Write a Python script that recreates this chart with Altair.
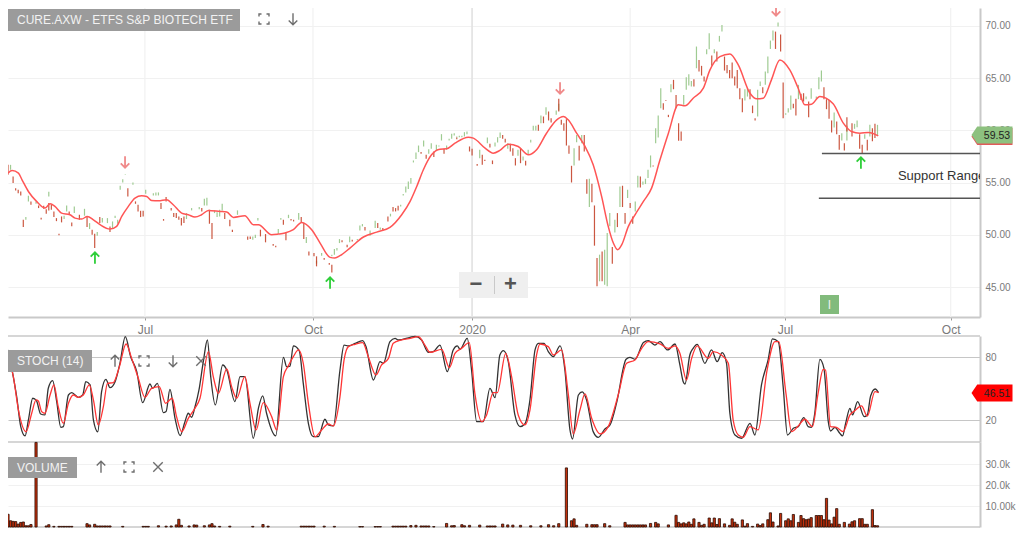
import altair as alt
import pandas as pd

FONT = "Liberation Sans"

# ---------- session numbers (trading days) and their month labels ----------
tick_days = [53.7, 119.6, 182, 244, 304.7, 369.7]
tick_labels = ["Jul", "Oct", "2020", "Apr", "Jul", "Oct"]
year_day = [182]
day_range = [0, 381.2]

# ---------- moving average ----------
ma_day = [0,1.6,4.1,5.5,8,11.2,14.5,16.5,18.4,21,24.3,26.3,28.9,31.1,33.5,36.1,40,42.6,44.6,47.2,49.8,52.4,54.4,56.3,59,62.2,64.8,68.1,70.7,73.3,75.9,78.6,83.1,85.8,88.4,92.9,96.2,98.2,103.4,106,108.6,111.9,115.2,119.1,122.4,126.3,128.2,130.2,
134.1,139.4,144.6,149.8,154.4,157.7,160.3,162.9,166.1,169.4,172,175.3,180.5,182.5,187.1,190.3,192.9,196.2,200.1,204.1,207.3,211.2,215.2,217.8,219.7,223,226.3,229.5,232.8,235.4,237.4,239.1,240.7,243.3,245.9,249.2,252.4,255.7,259,262.9,
265.5,268.7,272.7,275.3,279.2,283.1,286.4,291,293.6,296.2,299.4,302.7,306.6,309.9,312.5,315.1,318.4,323.6,327.6,330.8,334.1,337.4,341.3]
ma_price = [55.91,56.16,55.91,55.27,54.15,53.20,52.56,52.97,52.72,52.08,51.92,51.60,51.51,51.76,51.44,50.97,50.55,50.81,51.76,52.72,53.52,53.74,53.67,53.29,53.26,53.36,52.88,52.08,51.92,51.70,51.92,52.34,52.24,52.18,51.67,51.83,50.97,50.97,50.01,50.07,50.17,50.49,51.19,50.49,49.21,47.84,47.78,48.00,
48.73,49.79,50.26,50.71,51.92,53.20,54.63,56.23,57.66,58.20,58.24,58.78,59.35,59.26,58.30,57.82,58.08,58.68,58.46,57.66,58.14,59.73,61.01,61.33,61.01,59.73,58.46,56.71,53.68,50.81,49.21,48.57,49.05,50.81,51.92,53.20,54.47,57.18,59.73,62.45,
62.35,63.08,64.04,65.79,67.07,67.32,66.27,63.56,63.02,63.08,64.84,66.75,65.79,64.04,62.45,62.51,63.24,62.54,60.69,59.89,59.73,59.80,59.48]

# ---------- rising sessions ----------
up_day = [1,7,8,11,16,22,23,26,30,32,35,37,39,41,42,43,44,45,46,49,54,57,58,59,70,72,75,77,78,81,82,83,84,90,96,97,98,106,107,110,114,117,121,123,127,128,129,
130,134,137,138,139,142,144,146,150,154,155,156,157,158,159,160,161,163,165,166,168,169,170,172,173,174,175,176,177,178,179,180,185,188,191,192,193,196,200,202,204,205,206,207,209,211,215,216,222,223,225,228,232,234,235,236,238,240,243,246,247,249,250,251,252,254,255,256,260,
265,266,267,268,270,274,275,277,279,280,289,290,294,295,297,298,299,300,302,305,306,307,310,313,315,317,318,319,324,327,329,332,333,336,338,341]
up_high = [56.70,51.70,53.74,53.20,54.12,51.83,52.81,52.72,52.49,51.12,50.26,51.60,51.60,51.28,51.83,51.44,54.70,55.33,55.78,55.01,54.31,53.99,54.06,54.06,52.08,52.56,52.66,53.45,53.55,52.34,52.15,52.40,52.97,52.34,49.85,50.01,51.60,50.55,51.60,51.92,52.08,49.79,47.52,48.25,48.10,48.64,48.73,
49.59,49.85,49.59,50.90,51.03,50.42,51.35,50.71,52.02,52.88,53.90,54.63,55.11,55.43,57.12,57.88,58.55,59.03,58.20,58.78,58.62,58.55,59.64,58.55,59.19,59.67,59.73,59.42,59.48,59.48,59.83,59.89,58.14,59.32,58.84,59.35,59.80,58.78,58.14,57.50,58.14,59.10,60.44,60.44,61.42,62.22,61.90,62.54,58.30,59.57,59.57,55.37,48.10,48.57,50.17,52.08,51.44,54.63,54.31,53.20,55.65,55.11,55.37,56.23,57.60,60.21,61.42,64.04,64.42,
63.40,65.09,65.38,64.74,68.03,67.77,69.30,67.77,69.05,70.10,63.94,64.04,63.88,64.68,65.63,67.07,68.60,69.56,70.32,61.65,62.13,63.34,64.36,63.24,64.04,63.24,65.09,65.73,61.71,59.73,60.44,60.63,60.95,59.64,60.53,60.53]
up_low = [56.23,51.44,53.20,52.97,53.67,51.51,52.24,52.08,51.83,50.55,49.91,51.19,51.12,50.65,51.60,51.06,54.31,55.01,55.72,54.79,53.93,53.77,53.77,53.77,51.51,52.34,52.46,52.81,52.81,52.08,51.70,51.76,52.34,51.92,49.53,49.69,51.38,50.10,51.44,51.60,51.44,49.21,47.24,48.00,47.94,48.10,48.51,
49.21,49.28,49.47,50.42,50.81,49.91,50.65,50.49,51.76,52.72,53.77,54.06,54.38,54.89,56.93,57.25,57.92,58.46,57.76,58.24,58.08,58.46,59.03,58.14,59.03,59.19,59.51,59.32,59.35,59.35,59.42,59.64,57.34,58.78,58.46,58.84,59.26,58.24,57.57,57.12,57.66,58.84,59.99,59.99,60.69,61.49,61.49,61.90,56.64,58.87,58.78,52.66,45.55,45.22,45.07,50.81,50.23,52.66,53.52,52.24,54.54,54.79,54.86,55.43,56.45,58.78,59.32,62.13,63.66,
62.45,63.88,64.30,64.20,65.95,67.29,67.77,67.39,68.50,69.46,62.86,63.24,61.33,64.26,64.36,65.47,67.80,68.60,69.94,61.49,61.71,61.97,62.99,62.99,63.02,63.02,63.94,64.68,60.28,59.03,59.03,60.15,60.31,59.19,59.42,59.51]

# ---------- falling sessions ----------
dn_day = [0,2,3,4,5,6,9,12,13,14,15,16,17,18,19,20,21,24,25,28,31,33,34,36,40,47,50,51,52,53,60,61,62,64,65,66,67,68,69,76,79,80,85,87,88,94,95,99,101,104,105,108,109,111,112,115,116,118,120,121,124,126,127,
131,133,135,140,145,147,149,151,152,153,162,164,167,171,176,181,182,184,186,187,189,190,194,195,197,198,199,201,203,208,210,212,213,216,217,218,219,220,221,224,226,227,229,230,231,233,237,239,241,242,244,245,248,253,257,258,259,261,262,
263,264,269,271,272,273,276,278,281,282,283,284,285,286,287,288,291,292,293,296,301,303,304,308,309,311,312,314,320,321,322,323,325,326,328,329,331,331,334,335,337,339,340]
dn_high = [56.70,55.59,54.47,54.31,54.15,51.44,53.20,52.81,51.63,52.78,52.46,53.04,52.88,52.24,51.60,50.10,51.76,52.24,51.19,51.92,51.76,50.49,50.10,51.70,50.80,54.47,53.20,52.88,52.30,52.30,53.04,51.51,53.61,52.56,52.08,52.08,51.76,51.60,51.76,52.56,52.40,51.12,52.08,51.44,50.49,49.85,49.85,50.49,50.07,49.12,48.96,51.44,50.17,51.51,51.44,51.70,51.12,48.41,48.25,47.94,47.78,47.30,47.14,
49.47,49.04,49.53,50.74,51.12,50.65,51.76,52.66,52.56,52.78,57.92,57.66,57.98,58.24,59.32,58.46,58.24,56.77,57.66,57.18,58.71,57.12,59.57,59.19,58.71,58.30,57.34,58.30,57.09,60.53,61.33,61.81,61.17,63.02,61.01,60.69,61.07,58.55,56.61,58.52,59.57,55.33,54.89,52.81,47.78,48.41,48.83,52.08,54.70,52.08,53.04,51.76,55.59,56.64,62.60,62.92,61.49,64.84,63.40,
60.69,59.89,64.90,66.75,66.18,65.16,67.16,67.55,67.07,66.27,65.79,66.50,65.16,65.79,64.04,63.08,63.94,62.38,61.17,64.13,69.46,69.19,64.58,62.54,63.02,63.50,63.56,62.76,64.13,62.99,62.92,60.95,60.85,59.57,58.78,61.26,60.69,59.99,59.64,58.62,59.10,60.21,60.63]
dn_low = [55.75,54.95,54.25,53.99,53.77,50.74,52.88,52.56,51.47,52.50,52.02,52.33,52.40,51.70,51.31,49.95,51.19,51.92,50.81,51.44,50.74,50.01,48.73,51.12,50.26,53.67,52.97,52.24,51.70,51.76,52.47,51.35,53.20,52.34,51.70,51.60,51.44,50.90,51.12,52.24,51.06,49.60,51.51,50.81,50.26,49.53,49.59,49.85,49.28,48.96,48.80,50.97,49.47,51.38,51.28,51.19,49.60,48.03,47.94,46.98,47.62,47.14,46.40,
49.30,48.82,49.37,50.42,50.65,50.42,51.28,52.24,52.24,52.34,57.76,57.28,57.44,57.76,59.16,57.98,57.60,56.61,56.70,57.06,58.36,56.77,59.19,58.84,57.98,57.57,56.64,56.86,56.64,59.96,60.69,60.95,60.75,61.81,60.53,59.96,58.55,57.76,55.01,57.12,57.98,53.93,53.13,48.96,45.07,45.55,47.23,50.74,52.66,51.06,52.56,51.06,54.54,56.55,61.97,62.83,61.27,63.94,62.13,
59.00,59.00,64.20,65.63,65.25,64.68,66.18,66.59,65.73,65.47,65.00,65.00,64.30,64.04,62.99,61.74,62.99,61.65,60.95,63.56,67.80,67.55,61.17,62.13,61.42,62.92,62.76,61.27,62.99,62.03,61.11,59.80,59.64,58.14,58.07,59.89,59.99,59.42,58.23,57.82,58.07,58.97,59.26]

# ---------- signals and support range ----------
buy_day = [34.1, 126.3, 334.5]
buy_price = [47.78, 45.38, 56.88]
sell_day = [45.9, 216.5, 301.2]
sell_price = [56.97, 64.06, 71.53]
support_start = [319.2, 318]
support_end = [381.2, 381.2]
support_price = [57.79, 53.50]
support_label = ["Support Range"]
support_label_day = [349]
support_label_price = [55.63]
last_price = ["59.53"]
last_stoch = ["46.51"]

# ---------- stochastic ----------
k_day = [0,1.6,3.4,5,6.7,8,9.7,11.2,12.8,14.5,15.8,17.5,19.1,20.7,21.7,23.7,25,27.6,29.3,30.5,32.2,33.5,35.2,36.7,38.4,40,42,43.9,46,48.1,50.5,52.8,55.7,56.7,58.6,60.9,62,63.5,65.5,67.5,69.4,70.7,72,73.3,74.9,76.6,78.2,79.5,81.3,84.2,85.8,89,91,92.9,96.2,98.2,99.9,101.4,105,108,109.3,110.6,111.9,114.2,115.8,117.8,119.7,121.7,124.3,125.6,127.6,130.2,
131.8,133.5,136.1,139.1,140.4,143.3,145.9,147.2,149.8,151.8,153.1,157.7,159.6,162.2,164.8,166.8,169.4,172.3,174.6,176.2,177.3,180.1,181.8,183.8,186.4,189,191,192.9,194.3,196.2,198.8,200.8,202.7,204.7,206.7,208,210.2,211.9,213.9,216.5,218.4,220.4,221.4,223.7,225.2,226.9,229.5,231.5,234.1,236.1,238.7,242.4,243.9,245.9,249.2,251.1,253.7,255.7,258.7,261.6,263.5,
264.8,265.5,267.4,268.7,270.3,273.3,275.9,278.1,280.1,281.8,283.1,285.1,287.7,291,292.9,295.5,298.1,299.8,302.1,304,305.7,308,309.9,312.1,313.8,315.1,316.4,318.4,320,321.7,322.6,324.3,326.2,327.3,328.5,330.2,331.2,333.2,335.8,337,338.3,340.1,341.4]
k_value = [87,67.9,42.5,14,5.1,20.3,41,38.4,26,25.1,50.5,57.8,37.8,13.3,14,44.1,46.3,41.9,44.1,56.8,53.7,20.3,8.9,47.3,59,51.1,56.8,74.3,99.7,80.6,66.3,36.8,54.6,50.5,55.2,27.3,28.3,49.5,21.9,5.4,18.7,26.7,22.9,32.4,48.9,75.9,96.5,61.6,34.6,72.7,67.9,37.8,61.6,61.6,2.9,31.4,43.2,26.7,5.1,80,71.1,71.7,90.8,86.3,55.2,17.1,4.4,4.4,21,15.6,14.6,67.9,
91.7,90.8,93.3,95.9,90.2,58.4,75.9,74.3,94.9,98.1,96.5,99,100,96.5,84.8,85.4,91.7,66.3,87,90.8,87.6,98.1,67.9,18.7,18.7,50.5,41.6,82.2,86.3,75.9,25.1,14,16.5,39.4,87,93.3,93.3,85.4,80.6,90.8,67.9,10.8,2.2,44.1,47,39.4,9.2,3.8,11.7,15.6,36.8,78.1,80,78.1,94,95.9,91.7,94.9,87,92.7,72.7,
56.8,54.6,82.2,88.6,92.4,74.3,87,75.9,84.4,74.3,26.7,6,2.9,17.1,6,53.7,77.5,97.5,94.9,52.1,6,12.4,14,22.5,14,13.3,26.7,78.1,69.5,18.7,9.8,13.3,7.6,5.1,17.1,31.4,25.1,37.8,23.5,25.1,43.2,49.8,46.3]
d_day = [0,2.1,4.1,7.1,9.3,11,11.9,13.2,14.5,16.5,18,19.7,21.7,23.7,25.6,27.6,29.5,31.9,33.5,35.4,37.4,39,41.3,43.7,46.3,48.5,51.1,53.7,56.3,59.3,61.8,64.4,66.1,68.1,70.7,73.3,75.3,78.6,80.5,82.5,85.8,87.7,89.7,92.9,94.9,97.3,100.1,103.4,105.4,108,109.9,111.9,113.9,115.8,117.8,120.4,123,125.6,127.6,130.2,
131.8,133.5,136.1,139.1,141.3,144.3,146.5,149.2,151.1,154.4,157.7,160.9,163.5,165.5,170.1,173.1,175.3,177.9,180.9,183.1,185.8,187.7,190.3,191.9,195.2,197.5,200.1,202.7,204.7,207.3,208.6,211.9,213.9,217.1,219.7,221.7,224.3,226.3,228.9,232.2,235.4,239.3,242.6,245.9,248.5,251.1,255.7,259,261.6,263.5,
266.1,268.1,270.3,274.6,276.6,279.8,282.5,284.4,286.4,288.3,291,294.2,297.7,300.8,302.3,305.1,307.3,309.9,312.5,315.5,317.7,319.7,320.6,322.6,324.9,327.5,330.2,332.1,334.7,337,340,341.4]
d_value = [82.2,61.6,29.8,9.2,26.7,39.4,38.4,28.3,26.7,44.1,53.7,33,17.1,36.2,44.1,41.9,44.1,53.7,39.4,15.6,33,55.2,55.9,71.1,92.7,79,60,41.9,50.5,52.1,36.2,41,23.5,9.2,21.9,31.4,41,85.4,61.6,45.7,68.9,52.1,41,61.6,36.2,10.8,36.8,23.5,10.8,61.6,71.7,80.6,87,74.3,36.2,4.4,10.8,16.5,14.6,42.5,
77.5,90.2,92.4,94,80.6,63.2,72.7,79,93.3,96.5,98.1,99.7,91.7,84.8,87.6,70.2,83.8,88.6,94,45.7,18.7,25.1,46.3,46.3,83.8,61.6,25.1,15.6,29.8,82.2,92.7,90.2,82.2,87,45.7,7,29.8,45.1,21.9,7,14,44.1,74.3,77.5,88.6,94.9,92.7,88.6,90.8,83.8,
58.4,79,90.8,79,85.4,82.2,74.3,20.3,6,3.8,14,10.8,67.9,94.9,94.9,45.7,9.2,14.6,21,14,45.7,68.6,67.9,14,13.3,9.2,25.1,29.2,33.7,24.1,47.3,46.3]

# ---------- volume (thousands) ----------
vol_day = [0,1,2,3,4,5,6,7,8,9,11,15,16,18,20,21,22,23,24,25,31,32,34,35,36,37,38,39,40,45,53,54,55,59,62,64,66,67,68,71,73,74,77,79,80,81,83,87,96,100,102,115,116,117,118,119,120,124,128,
138,139,144,145,146,151,152,153,154,155,156,158,160,162,163,164,165,167,172,174,175,178,179,181,185,188,189,190,191,194,196,198,201,205,209,212,214,216,219,221,222,223,227,229,230,231,234,236,242,243,244,245,246,247,248,249,250,252,254,255,259,262,263,
264,265,266,267,268,269,271,272,273,275,276,277,278,279,281,283,284,285,286,288,289,290,292,294,295,296,298,299,300,302,303,305,306,307,308,310,311,312,313,314,315,317,318,319,320,321,322,323,324,325,326,328,330,331,332,334,335,336,337,339,340,341]
vol_k = [6.1,3,2.7,2.6,1.4,2.2,2.4,.6,.6,1.2,40.5,.5,1.1,.3,.3,.3,.3,.3,.3,.3,1.6,1,1.3,.5,.5,.5,.5,.5,.5,.3,.3,.3,.3,.6,.4,.5,1,3.7,.8,.5,1,.9,.6,1,1.6,.5,.3,.4,.3,1.2,.4,.4,.4,.4,.4,.4,.4,.4,.3,
.2,.2,.2,.2,.2,.4,.4,.4,.4,.4,.4,.7,.8,.5,.5,.5,.5,.2,1.7,.6,.7,1.1,.6,.8,.9,.5,.5,.5,.5,1.4,1,.9,.8,.6,.6,1.1,.6,1.6,28.3,3,3.9,.8,1.3,1.1,1.1,1.1,1.6,.6,2.2,1,1,1,1,1,1,1,1,1.7,2.2,1.5,1,5.6,2.2,
1.5,2,1.5,2.4,1.3,3.9,2.2,.8,1.3,4.3,2,4.3,1.2,4,1.5,.8,3.9,2.3,1.3,3.4,.4,1.6,.3,1.4,.7,1.5,3.5,6.8,2.4,.5,6.5,3,3.9,3,6,2.2,5.5,4,3.5,3.8,4.5,5.5,5.5,5.5,3.5,13.7,3.3,1.5,4.7,8.8,1.3,2.2,1.4,2.5,3,4,4,1.3,1.3,8.3,.7,.6]

price_ticks = [45, 50, 55, 60, 65, 70]
stoch_ticks = [20, 80]
vol_ticks = [10, 20, 30]
vol_tick_labels = ["10.00k", "20.0k", "30.0k"]
panel_titles = ["CURE.AXW - ETFS S&P BIOTECH ETF", "STOCH (14)", "VOLUME"]

# ---------- shared styling ----------
W, H = 972, 519
P1_BOTTOM = 309
P2_TOP, P2_BOTTOM = 328, 434
P3_BOTTOM = 519
GRID = "#f1f1f1"
BORDER = "#c9c9c9"
LABEL = "#7a7a7a"
GREEN = "#9fcb92"
RED = "#c23a20"
MA = "#ff5555"

label_map = "{" + ",".join(f"'{d}':'{t}'" for d, t in zip(tick_days, tick_labels)) + "}[''+datum.value]"
vol_map = "{" + ",".join(f"'{d}':'{t}'" for d, t in zip(vol_ticks, vol_tick_labels)) + "}[''+datum.value]"

xs = alt.Scale(domain=day_range, zero=False, nice=False, padding=0)
ys1 = alt.Scale(domain=[42.13, 71.72], zero=False, nice=False, range=[P1_BOTTOM, 0])
ys2 = alt.Scale(domain=[-0.67, 100.3], zero=False, nice=False, range=[P2_BOTTOM, P2_TOP])
ys3 = alt.Scale(domain=[0, 40.7], zero=False, nice=False, range=[P3_BOTTOM, P2_BOTTOM])

x_axis = alt.Axis(values=tick_days, labelExpr=label_map, grid=False, offset=P1_BOTTOM - H,
                  domainColor=BORDER, domainWidth=2, tickColor="#999999", tickSize=3,
                  labelColor=LABEL, labelFontSize=12, labelFont=FONT, labelPadding=4,
                  labelOverlap=False, labelFlush=False, title=None)
X = alt.X("day:Q", scale=xs, axis=x_axis)

UP = "M0,1 L0,-1 M-0.75,-0.25 L0,-1 L0.75,-0.25"
DOWN = "M0,-1 L0,1 M-0.75,0.25 L0,1 L0.75,0.25"
FRAME = ("M-1,-0.5 L-1,-1 L-0.5,-1 M0.5,-1 L1,-1 L1,-0.5 "
         "M1,0.5 L1,1 L0.5,1 M-0.5,1 L-1,1 L-1,0.5")
CROSS = "M-1,-1 L1,1 M1,-1 L-1,1"
TAG = "M-1,0 L-0.72,-0.42 L1,-0.42 L1,0.42 L-0.72,0.42 Z"

one = pd.DataFrame({"k": [0]})


def box(x, x2, y, y2, fill):
    return alt.Chart(one).mark_rect(fill=fill).encode(
        x=alt.value(x), x2=alt.value(x2), y=alt.value(y), y2=alt.value(y2))


def label(txt, x, y, color="#f2f2f2", size=12, weight="normal", align="left"):
    return alt.Chart(one).mark_text(
        font=FONT, fontSize=size, color=color, align=align, baseline="middle", fontWeight=weight
    ).encode(x=alt.value(x), y=alt.value(y), text=alt.value(txt))


def icon(shape, x, y, size=100, color="#6e6e6e", width=1.4):
    return alt.Chart(one).mark_point(
        shape=shape, size=size, filled=False, color=color, strokeWidth=width, opacity=1
    ).encode(x=alt.value(x), y=alt.value(y))


def tag(txt, x, y, fill, edge=None):
    parts = []
    if edge:
        parts.append(alt.Chart(one).mark_point(shape=TAG, size=1681, filled=True, fill=edge, opacity=1, strokeWidth=0)
                     .encode(x=alt.value(x), y=alt.value(y + 1.5)))
    parts.append(alt.Chart(one).mark_point(shape=TAG, size=1681, filled=True, fill=fill, opacity=1, strokeWidth=0)
                 .encode(x=alt.value(x), y=alt.value(y)))
    parts.append(label(txt, x + 5, y + 0.5, color="#222222", size=10.5, align="center"))
    return parts


def border(y):
    return alt.Chart(one).mark_rule(color=BORDER, strokeWidth=1.6).encode(y=alt.value(y))


# ---------- price panel ----------
up = pd.DataFrame({"day": up_day, "high": up_high, "low": up_low})
dn = pd.DataFrame({"day": dn_day, "high": dn_high, "low": dn_low})
ma = pd.DataFrame({"day": ma_day, "price": ma_price})
buy = pd.DataFrame({"day": buy_day, "price": buy_price})
sell = pd.DataFrame({"day": sell_day, "price": sell_price})
sup = pd.DataFrame({"day": support_start, "end": support_end, "price": support_price})
sup_txt = pd.DataFrame({"day": support_label_day, "price": support_label_price, "t": support_label})
months = pd.DataFrame({"day": tick_days})
year = pd.DataFrame({"day": year_day})

y_price = alt.Axis(orient="right", values=price_ticks, format=".2f", grid=True, gridColor=GRID, gridWidth=1.2,
                   domainColor=BORDER, domainWidth=2, ticks=False, labelColor=LABEL, labelFontSize=10,
                   labelFont=FONT, labelPadding=5, title=None)

month_lines = alt.Chart(months).mark_rule(color=GRID, strokeWidth=1.2).encode(
    x=X, y=alt.value(0), y2=alt.value(P1_BOTTOM))
year_line = alt.Chart(year).mark_rule(color="#e0e0e0", strokeWidth=1.4).encode(
    x=X, y=alt.value(0), y2=alt.value(P1_BOTTOM))
up_bars = alt.Chart(up).mark_rule(color=GREEN, strokeWidth=1.2).encode(
    x=X, y=alt.Y("low:Q", scale=ys1, axis=y_price), y2="high:Q")
dn_bars = alt.Chart(dn).mark_rule(color=RED, strokeWidth=1.2, opacity=0.85).encode(
    x=X, y=alt.Y("low:Q", scale=ys1, axis=None), y2="high:Q")
ma_line = alt.Chart(ma).mark_line(color=MA, strokeWidth=1.5, interpolate="monotone").encode(
    x=X, y=alt.Y("price:Q", scale=ys1, axis=None))
buy_pts = alt.Chart(buy).mark_point(shape=UP, size=130, filled=False, color="#2fcf3a", strokeWidth=1.8, opacity=1).encode(
    x=X, y=alt.Y("price:Q", scale=ys1, axis=None))
sell_pts = alt.Chart(sell).mark_point(shape=DOWN, size=130, filled=False, color="#f08a8a", strokeWidth=1.8, opacity=1).encode(
    x=X, y=alt.Y("price:Q", scale=ys1, axis=None))
sup_rules = alt.Chart(sup).mark_rule(color="#555555", strokeWidth=1.4).encode(
    x=X, x2="end:Q", y=alt.Y("price:Q", scale=ys1, axis=None))
sup_label = alt.Chart(sup_txt).mark_text(font=FONT, fontSize=13, color="#333333", align="left", baseline="middle", clip=True).encode(
    x=X, y=alt.Y("price:Q", scale=ys1, axis=None), text="t:N")

top_ui = [
    box(0, 232, 1, 23, "#9b9b9b"),
    label(panel_titles[0], 9, 12),
    icon(FRAME, 256, 11),
    icon(DOWN, 285, 11, size=130),
    box(451, 520, 264, 290, "#efefef"),
    box(486, 487, 268, 286, "#c9c9c9"),
    label("\u2212", 468, 276, color="#555555", size=22, weight="bold", align="center"),
    label("+", 502.5, 276, color="#555555", size=22, weight="bold", align="center"),
    box(812, 831, 287, 306, "#82bb7c"),
    label("I", 821.5, 297, color="#f2f2f2", align="center"),
] + tag(last_price[0], 984, 127, "#8dc17f", "#e05a5a")

# ---------- stochastic panel ----------
k = pd.DataFrame({"day": k_day, "v": k_value})
d = pd.DataFrame({"day": d_day, "v": d_value})
y_stoch = alt.Axis(orient="right", values=stoch_ticks, format="d", grid=True, gridColor="#c6c6c6", gridWidth=1.1,
                   domainColor=BORDER, domainWidth=2, ticks=False, labelColor=LABEL, labelFontSize=10,
                   labelFont=FONT, labelPadding=5, title=None)
k_line = alt.Chart(k).mark_line(color="#333333", strokeWidth=1.3, interpolate="monotone").encode(
    x=X, y=alt.Y("v:Q", scale=ys2, axis=y_stoch))
d_line = alt.Chart(d).mark_line(color="#ff3535", strokeWidth=1.3, interpolate="monotone").encode(
    x=X, y=alt.Y("v:Q", scale=ys2, axis=None))

stoch_ui = [
    box(0, 84, P2_TOP + 14, P2_TOP + 36, "#9b9b9b"),
    label(panel_titles[1], 9, P2_TOP + 25),
    icon(UP, 107, P2_TOP + 25, size=130),
    icon(FRAME, 136, P2_TOP + 25),
    icon(DOWN, 165, P2_TOP + 25, size=130),
    icon(CROSS, 193, P2_TOP + 25, size=90),
] + tag(last_stoch[0], 984, P2_TOP + 57, "#ff0000")

# ---------- volume panel ----------
vol = pd.DataFrame({"day": vol_day, "k": vol_k})
y_vol = alt.Axis(orient="right", values=vol_ticks, labelExpr=vol_map, grid=True, gridColor=GRID, gridWidth=1.2,
                 domainColor=BORDER, domainWidth=2, ticks=False, labelColor=LABEL, labelFontSize=10,
                 labelFont=FONT, labelPadding=5, title=None)
vol_bars = alt.Chart(vol).mark_bar(size=2.2, fill="#c4300c", stroke="#2a0c04", strokeWidth=0.8).encode(
    x=X, y=alt.Y("k:Q", scale=ys3, axis=y_vol))

vol_ui = [
    box(0, 69, P2_BOTTOM + 15, P2_BOTTOM + 36, "#9b9b9b"),
    label(panel_titles[2], 9, P2_BOTTOM + 25.5),
    icon(UP, 93, P2_BOTTOM + 25, size=130),
    icon(FRAME, 121, P2_BOTTOM + 25),
    icon(CROSS, 150, P2_BOTTOM + 25, size=90),
]

chart = alt.layer(
    month_lines, year_line, up_bars, dn_bars, ma_line, buy_pts, sell_pts, sup_rules, sup_label,
    border(P2_TOP), border(P2_BOTTOM), border(P3_BOTTOM), k_line, d_line, vol_bars,
    *top_ui, *stoch_ui, *vol_ui
).resolve_scale(y="independent").properties(
    width=W, height=H,
    autosize=alt.AutoSizeParams(type="none"),
    padding={"left": 0, "top": 0, "right": 36, "bottom": 6},
    background="white",
).configure_view(strokeWidth=0)

chart.save("out.html", embed_options={"renderer": "svg", "actions": False})
